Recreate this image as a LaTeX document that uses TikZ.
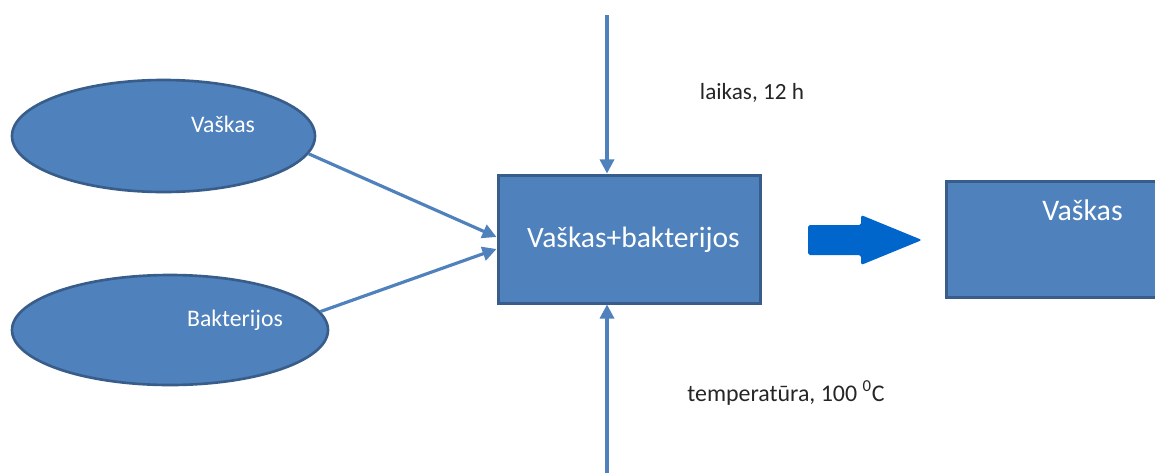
\documentclass[tikz,border=0pt]{standalone}
\usepackage{fontspec}
\setmainfont{Carlito}
\usepackage{tikz}
\usetikzlibrary{calc,arrows.meta,shapes.geometric}
\definecolor{vfill}{HTML}{4F81BD}
\definecolor{vedge}{HTML}{385D8A}
\definecolor{vline}{HTML}{4F81BD}
\definecolor{vbig}{HTML}{0066CC}

\begin{document}
\begin{tikzpicture}[>={Triangle[length=8pt,width=8pt]}, line width=1.4pt]
  \tikzset{
    inblob/.style={ellipse, draw=vedge, fill=vfill, line width=1.5pt, inner sep=0pt},
    procbox/.style={rectangle, draw=vedge, fill=vfill, line width=1.7pt, inner sep=0pt},
    flow/.style={vline, ->, line width=1.8pt},
    wtext/.style={white, inner sep=0pt},
    ktext/.style={black!85, inner sep=0pt, font=\fontsize{13.2}{15}\selectfont}
  }
  \useasboundingbox (0,0) rectangle (23.1,-9.46);

  % inputs
  \node[inblob, minimum width=6.06cm, minimum height=2.24cm] (vask) at (3.27,-2.72) {};
  \node[wtext, font=\fontsize{13.5}{15}\selectfont] (vasktxt) at (4.46,-2.48) {Vaškas};
  \node[inblob, minimum width=6.32cm, minimum height=2.2cm] (bakt) at (3.40,-6.60) {};
  \node[wtext, font=\fontsize{13.5}{15}\selectfont] (bakttxt) at (4.70,-6.40) {Bakterijos};

  % the mixture
  \node[procbox, minimum width=5.24cm, minimum height=2.56cm] (mix) at (12.58,-4.78) {};
  \node[wtext, font=\fontsize{16.8}{19}\selectfont] (mixtxt) at (12.67,-4.80) {Vaškas+bakterijos};

  % result (runs off the right edge)
  \begin{scope}
    \clip (0,0) rectangle (23.1,-9.46);
    \node[procbox, minimum width=4.7cm, minimum height=2.32cm] (out) at (21.27,-4.78) {};
  \end{scope}
  \node[wtext, font=\fontsize{17}{19}\selectfont] (outtxt) at (21.65,-4.20) {Vaškas};

  % inputs into the mixture
  \coordinate (in1) at ($ (mix.west)+(0,0.04) $);
  \coordinate (in2) at ($ (mix.west)+(0,-0.20) $);
  \draw[flow] (vask.-7) -- (in1);
  \draw[flow] (bakt.7) -- (in2);

  % conditions from above and below
  \coordinate (ttop) at (12.14,-0.30);
  \coordinate (tbot) at (12.14,-9.46);
  \draw[flow] (ttop) -- (mix.north -| ttop);
  \draw[flow] (tbot) -- (mix.south -| ttop);
  \node[ktext] (laik) at (15.04,-1.86) {laikas, 12 h};
  \node[ktext, font=\fontsize{13.6}{15}\selectfont] (temp) at (15.72,-7.86) {temperatūra, 100 \textsuperscript{0}C};

  % big block arrow
  \coordinate (ba) at (16.16,-4.80);
  \fill[vbig, rounded corners=1pt]
    ($ (ba)+(0,0.30) $) -- ($ (ba)+(1.06,0.30) $) -- ($ (ba)+(1.06,0.50) $)
    -- ($ (ba)+(2.28,0) $) -- ($ (ba)+(1.06,-0.50) $) -- ($ (ba)+(1.06,-0.30) $)
    -- ($ (ba)+(0,-0.30) $) -- cycle;
\end{tikzpicture}
\end{document}
